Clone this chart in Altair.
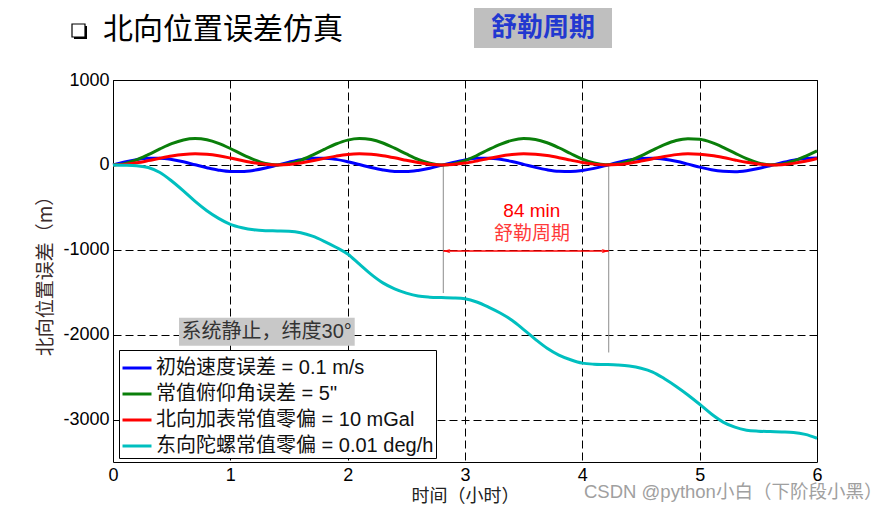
import altair as alt
import pandas as pd

# ---------------- data ----------------
hours = [i / 10 for i in range(61)]  # sample times, 0.0 ... 6.0 h

blue_vals = [0, 35, 62, 78, 78, 63, 36, 1, -33, -62, -78, -78, -64, -37, -2,
             32, 61, 77, 79, 65, 38, 4, -31, -60, -77, -79, -65, -39, -5,
             30, 59, 77, 79, 66, 40, 6, -29, -58, -76, -79, -67, -41, -7,
             28, 57, 76, 79, 67, 42, 9, -26, -57, -75, -80, -68, -43, -10,
             25, 56, 75, 80]

green_vals = [0, 15, 58, 120, 188, 250, 294, 310, 296, 254, 193, 124, 63, 17, 0,
              13, 54, 115, 183, 246, 292, 310, 298, 258, 197, 129, 65, 19, 0,
              11, 50, 110, 179, 242, 289, 310, 299, 261, 202, 134, 69, 22, 1,
              10, 47, 106, 174, 238, 287, 309, 301, 265, 207, 139, 73, 24, 1,
              8, 44, 101, 165]

red_vals = [0, 6, 24, 50, 79, 105, 123, 130, 124, 107, 81, 52, 26, 7, 0,
            5, 23, 48, 77, 103, 123, 130, 125, 108, 83, 54, 27, 8, 0,
            5, 21, 46, 75, 102, 121, 130, 126, 110, 85, 56, 29, 9, 0,
            4, 20, 45, 73, 100, 121, 130, 126, 111, 87, 58, 31, 10, 0,
            3, 18, 42, 75]

cyan_vals = [0, -3, -10, -30, -90, -190, -306, -430, -540, -630, -700,
             -740, -765, -775, -778, -782, -800, -840, -900, -970, -1050,
             -1170, -1290, -1390, -1460, -1510, -1545, -1558, -1563, -1567, -1578,
             -1615, -1675, -1745, -1830, -1940, -2055, -2160, -2240, -2295, -2335,
             -2348, -2352, -2358, -2370, -2395, -2440, -2520, -2610, -2710, -2820,
             -2935, -3030, -3090, -3125, -3137, -3142, -3146, -3152, -3175, -3220]

series_names = ["初始速度误差 = 0.1 m/s",
                "常值俯仰角误差 = 5\"",
                "北向加表常值零偏 = 10 mGal",
                "东向陀螺常值零偏 = 0.01 deg/h"]
series_colors = ["#0000ff", "#0a7f0a", "#ff0000", "#00bfbf"]

x_ticks = [0, 1, 2, 3, 4, 5, 6]
y_ticks = [1000, 0, -1000, -2000, -3000]

# Schuler period markers (h) and their lower ends (m)
period_marks_x = [2.815, 4.225]
period_marks_bottom = [-1510, -2210]
arrow_y = -1015

FONT = "Liberation Sans, Noto Sans CJK SC"
CJK = "Noto Sans CJK SC"

rows = []
for name, vals in zip(series_names, [blue_vals, green_vals, red_vals, cyan_vals]):
    for t, v in zip(hours, vals):
        rows.append({"t": t, "v": v, "s": name, "k": series_names.index(name)})
df = pd.DataFrame(rows)

xscale = alt.Scale(domain=[0, 6], nice=False, zero=False)
yscale = alt.Scale(domain=[-3500, 1000], nice=False, zero=False)

lines = alt.Chart(df).mark_line(strokeWidth=3, interpolate="monotone").encode(
    x=alt.X("t:Q", scale=xscale,
            axis=alt.Axis(values=x_ticks, title="时间（小时）", grid=True,
                          gridDash=[8, 4], gridColor="black", gridWidth=1,
                          gridOpacity=1, ticks=False, domain=False,
                          labelExpr="datum.value + ''",
                          labelFont=FONT, labelFontSize=18, labelColor="black",
                          labelPadding=4, labelFlush=False,
                          titleFont=CJK, titleFontSize=18, titleFontWeight="normal",
                          titleColor="#222222", titlePadding=3)),
    y=alt.Y("v:Q", scale=yscale,
            axis=alt.Axis(values=y_ticks, title="北向位置误差（m）", grid=True,
                          gridDash=[8, 4], gridColor="black", gridWidth=1,
                          gridOpacity=1, ticks=False, domain=False,
                          labelExpr="datum.value + ''",
                          labelFont=FONT, labelFontSize=18, labelColor="black",
                          labelPadding=4, labelFlush=False,
                          titleFont=CJK, titleFontSize=19, titleFontWeight="normal",
                          titleColor="#3a2a2a", titlePadding=7)),
    color=alt.Color("s:N", scale=alt.Scale(domain=series_names, range=series_colors),
                    sort=series_names,
                    legend=alt.Legend(title=None, orient="none", legendX=6, legendY=270,
                                      symbolType="stroke", symbolSize=841,
                                      symbolStrokeWidth=3, labelFont=FONT,
                                      labelFontSize=20, labelColor="#111111",
                                      labelLimit=500, fillColor="white",
                                      strokeColor="black", padding=2,
                                      rowPadding=-9, labelOffset=3)),
    order=alt.Order("k:Q"),
)

# Schuler-period gray markers
marks_df = pd.DataFrame({"x": period_marks_x, "y": [0, 0], "y2": period_marks_bottom})
vrules = alt.Chart(marks_df).mark_rule(color="#8c8c8c", strokeWidth=1).encode(
    x="x:Q", y="y:Q", y2="y2:Q")

arrow_df = pd.DataFrame({"x": [period_marks_x[0]], "x2": [period_marks_x[1]], "y": [arrow_y]})
arrow = alt.Chart(arrow_df).mark_rule(color="#ff0000", strokeWidth=1.5).encode(
    x="x:Q", x2="x2:Q", y="y:Q")

heads_df = pd.DataFrame({"x": period_marks_x, "y": [arrow_y, arrow_y]})
head_left = alt.Chart(heads_df.iloc[[0]]).mark_point(
    shape="M0,0L2.4,-0.7L1.7,0L2.4,0.7Z", filled=True, color="#ff0000", size=36, opacity=1
).encode(x="x:Q", y="y:Q")
head_right = alt.Chart(heads_df.iloc[[1]]).mark_point(
    shape="M0,0L-2.4,-0.7L-1.7,0L-2.4,0.7Z", filled=True, color="#ff0000", size=36, opacity=1
).encode(x="x:Q", y="y:Q")

ann_df = pd.DataFrame({"x": [3.57, 3.57], "y": [-541, -812], "label": ["84 min", "舒勒周期"],
                       "c": ["#ff0000", "#ff3a3a"]})
ann = alt.Chart(ann_df).mark_text(font=FONT, fontSize=19, align="center", baseline="middle").encode(
    x="x:Q", y="y:Q", text="label:N", color=alt.Color("c:N", scale=None))

# "系统静止，纬度30°" box (data coordinates)
box_df = pd.DataFrame({"x": [0.5625], "x2": [2.06], "y": [-1800], "y2": [-2130],
                       "xm": [1.31], "ym": [-1965], "label": ["系统静止，纬度30°"]})
box = alt.Chart(box_df).mark_rect(color="#c8c8c8").encode(x="x:Q", x2="x2:Q", y="y:Q", y2="y2:Q")
box_text = alt.Chart(box_df).mark_text(font=FONT, fontSize=20, color="#333333",
                                       align="center", baseline="middle").encode(
    x="xm:Q", y="ym:Q", text="label:N")

# ---------------- header items (outside the plot area) ----------------
one = pd.DataFrame({"a": [0]})
shadow = alt.Chart(one).mark_rect(color="black").encode(
    x=alt.value(-39), x2=alt.value(-26), y=alt.value(-54), y2=alt.value(-41))
square = alt.Chart(one).mark_rect(color="white", stroke="black", strokeWidth=1.2).encode(
    x=alt.value(-41), x2=alt.value(-28), y=alt.value(-56), y2=alt.value(-43))
title_txt = alt.Chart(pd.DataFrame({"t": ["北向位置误差仿真"]})).mark_text(
    font=CJK, fontSize=30, color="black", align="left", baseline="middle").encode(
    x=alt.value(-10), y=alt.value(-50), text="t:N")
badge = alt.Chart(one).mark_rect(color="#bfbfbf").encode(
    x=alt.value(361), x2=alt.value(499), y=alt.value(-75), y2=alt.value(-32))
badge_txt = alt.Chart(pd.DataFrame({"t": ["舒勒周期"]})).mark_text(
    font=CJK, fontSize=26, fontWeight="bold", color="#2238d0", align="center",
    baseline="middle").encode(x=alt.value(430), y=alt.value(-52), text="t:N")
watermark = alt.Chart(pd.DataFrame({"t": ["CSDN @python小白（下阶段小黑）"]})).mark_text(
    font=FONT, fontSize=18.5, color="#a0a0a0", align="left", baseline="middle").encode(
    x=alt.value(471), y=alt.value(412), text="t:N")

chart = alt.layer(
    box, box_text, vrules, arrow, head_left, head_right, ann, lines,
    shadow, square, title_txt, badge, badge_txt, watermark
).properties(
    width=704, height=382,
    padding={"left": 105, "top": 72, "right": 70, "bottom": 43},
    autosize=alt.AutoSizeParams(type="none"),
    background="white",
).configure_view(stroke="black", strokeWidth=1)

chart.save("out.html", embed_options={"renderer": "svg", "actions": False})
